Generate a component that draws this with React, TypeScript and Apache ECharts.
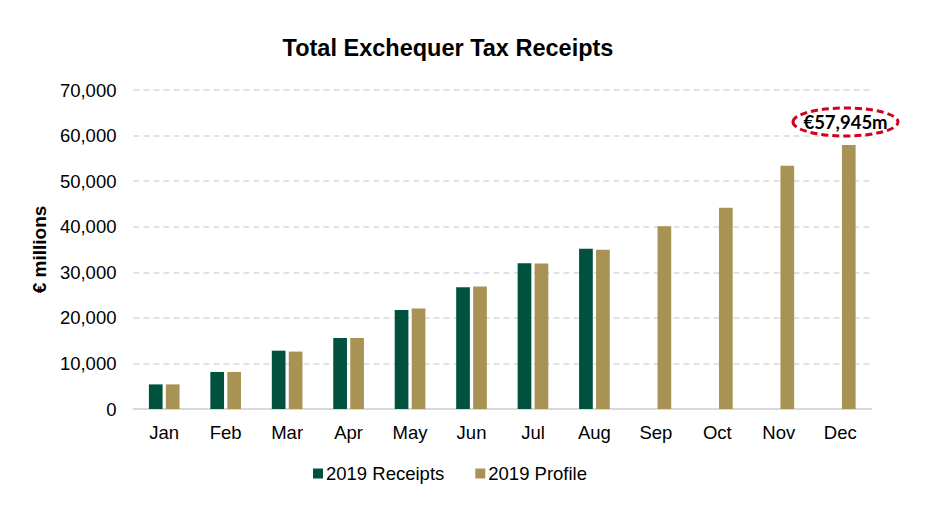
import React, { useEffect, useRef } from "react";
import * as echarts from "echarts";

const months = ["Jan", "Feb", "Mar", "Apr", "May", "Jun", "Jul", "Aug", "Sep", "Oct", "Nov", "Dec"];
const receipts2019 = [5400, 8130, 12800, 15600, 21750, 26730, 32000, 35150, null, null, null, null];
const profile2019 = [5400, 8130, 12600, 15600, 22050, 26880, 31930, 34950, 40080, 44170, 53380, 57945];
const yTicks = { min: 0, max: 70000, interval: 10000 };
const annotationText = "€57,945m";

export default function App() {
  const ref = useRef<HTMLDivElement>(null);
  useEffect(() => {
    document.body.style.margin = "0";
    const chart = echarts.init(ref.current!, null, { renderer: "svg" });
    const font = "'Liberation Sans', Arial, sans-serif";
    chart.setOption({
      animation: false,
      textStyle: { fontFamily: font },
      title: {
        text: "Total Exchequer Tax Receipts",
        left: 443,
        top: 31,
        textAlign: "center",
        textStyle: { fontSize: 23.5, fontWeight: "bold", color: "#000", fontFamily: font },
      },
      grid: { left: 133.5, right: 70, top: 90, bottom: 105 },
      legend: {
        left: 308,
        top: 459,
        itemWidth: 10,
        itemHeight: 10,
        itemGap: 31,
        icon: "rect",
        textStyle: { fontSize: 18.5, color: "#000", fontFamily: font, padding: [0, 0, 0, -2] },
        data: ["2019 Receipts", "2019 Profile"],
      },
      xAxis: {
        type: "category",
        data: months,
        axisLine: { lineStyle: { color: "#d9d9d9", width: 2 } },
        axisTick: { show: false },
        axisLabel: { fontSize: 18.5, color: "#000", margin: 14, fontFamily: font },
      },
      yAxis: {
        type: "value",
        min: yTicks.min,
        max: yTicks.max,
        interval: yTicks.interval,
        name: "€ millions",
        nameLocation: "middle",
        nameGap: 80,
        nameTextStyle: { fontSize: 19, fontWeight: "bold", color: "#000", fontFamily: font },
        axisLine: { show: false },
        axisTick: { show: false },
        axisLabel: {
          fontSize: 18.5,
          color: "#000",
          margin: 17,
          fontFamily: font,
          formatter: (v: number) => v.toLocaleString("en-US"),
        },
        splitLine: { lineStyle: { color: "#d9d9d9", type: [6, 4], width: 1.5 } },
      },
      series: [
        {
          name: "2019 Receipts",
          type: "bar",
          data: receipts2019,
          barWidth: 13.7,
          barGap: "24%",
          itemStyle: { color: "#01513f" },
        },
        {
          name: "2019 Profile",
          type: "bar",
          data: profile2019,
          barWidth: 13.7,
          itemStyle: { color: "#a89254" },
        },
      ],
      graphic: [
        {
          type: "ellipse",
          shape: { cx: 845.5, cy: 122, rx: 52.5, ry: 14 },
          style: { fill: "#fff", stroke: "#d0021b", lineWidth: 3, lineDash: [7, 4] },
          z: 100,
        },
        {
          type: "text",
          x: 845.5,
          y: 122,
          style: {
            text: annotationText,
            fontSize: 18.5,
            fontWeight: "bold",
            fontFamily: "Lato, 'Open Sans', sans-serif",
            fill: "#000",
            align: "center",
            verticalAlign: "middle",
          },
          z: 101,
        },
      ],
    });
    return () => chart.dispose();
  }, []);
  return <div ref={ref} style={{ width: 941, height: 514 }} />;
}
